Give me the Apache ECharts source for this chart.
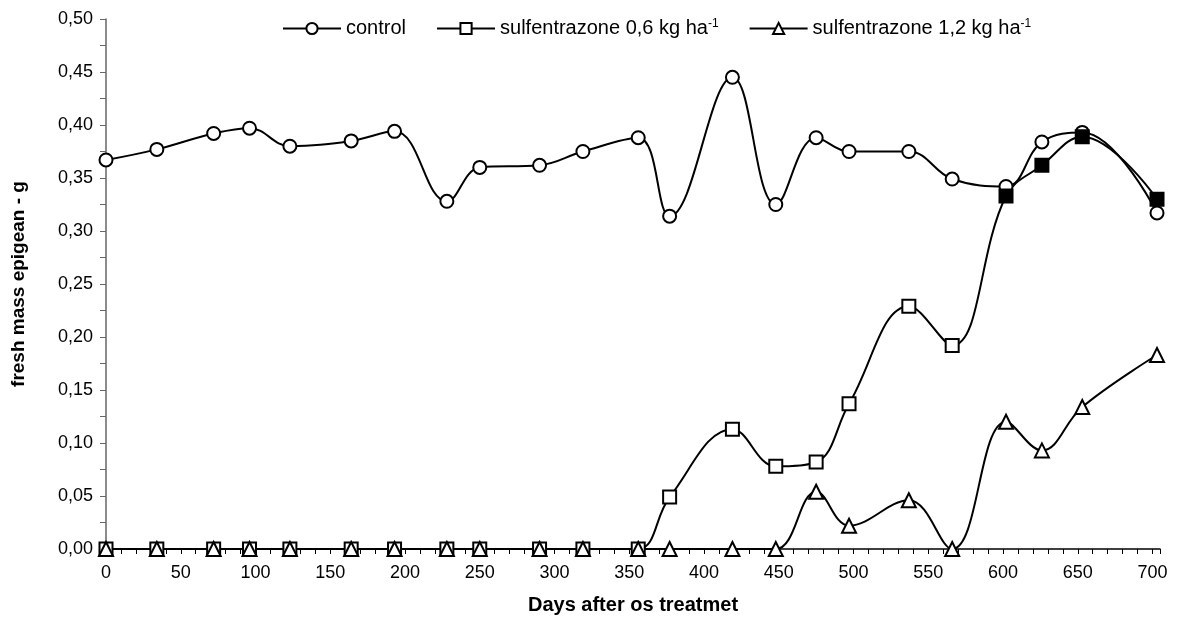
<!DOCTYPE html>
<html>
<head>
<meta charset="utf-8">
<script src="https://cdn.jsdelivr.net/npm/echarts@6/dist/echarts.min.js"></script>
<style>
  html, body { margin: 0; padding: 0; background: #fff; }
  #chart { width: 1178px; height: 620px; }
</style>
</head>
<body>
<div id="chart"></div>
<script>
// Days after treatment (x values)
const days = [0, 34, 72, 96, 123, 164, 193, 228, 250, 290, 319, 356, 377, 419, 448, 475, 497, 537, 566, 602, 626, 653, 703];
// control
const control = [0.367, 0.377, 0.392, 0.397, 0.380, 0.385, 0.394, 0.328, 0.360, 0.362, 0.375, 0.388, 0.314, 0.445, 0.325, 0.388, 0.375, 0.375, 0.349, 0.342, 0.384, 0.393, 0.317];
// sulfentrazone 0,6 kg ha-1
const sulf06 = [0, 0, 0, 0, 0, 0, 0, 0, 0, 0, 0, 0, 0.049, 0.113, 0.078, 0.082, 0.137, 0.229, 0.192, 0.333, 0.362, 0.389, 0.330];
// sulfentrazone 1,2 kg ha-1
const sulf12 = [0, 0, 0, 0, 0, 0, 0, 0, 0, 0, 0, 0, 0, 0, 0, 0.054, 0.022, 0.046, 0, 0.120, 0.093, 0.134, 0.183];
// points of sulf06 drawn with filled markers (indices)
const sulf06Filled = [19, 20, 21, 22];

const seriesNames = ['control', 'sulfentrazone 0,6 kg ha-1', 'sulfentrazone 1,2 kg ha-1'];
const legendLabels = {
  'control': 'control',
  'sulfentrazone 0,6 kg ha-1': 'sulfentrazone 0,6 kg ha{sup|-1}',
  'sulfentrazone 1,2 kg ha-1': 'sulfentrazone 1,2 kg ha{sup|-1}'
};
const xTitle = 'Days after os treatmet';
const yTitle = 'fresh mass epigean - g';

const pairs = (ys) => days.map((d, i) => [d, ys[i]]);

const chart = echarts.init(document.getElementById('chart'), null, { renderer: 'canvas' });

const baseSeries = {
  type: 'line',
  smooth: 0.4,
  symbolSize: 13,
  showAllSymbol: true,
  lineStyle: { color: '#000', width: 2 },
  itemStyle: { color: '#fff', borderColor: '#000', borderWidth: 2 },
  emphasis: { disabled: true },
  clip: false
};

const sulf06Data = pairs(sulf06).map((p, i) => sulf06Filled.includes(i)
  ? { value: p, itemStyle: { color: '#000', borderColor: '#000' } }
  : p);

chart.setOption({
  animation: false,
  backgroundColor: '#fff',
  textStyle: { fontFamily: 'Liberation Sans, Arial, sans-serif' },
  grid: { left: 106, right: 18, top: 19, bottom: 69, containLabel: false },
  legend: {
    left: 277,
    top: 13,
    itemWidth: 58,
    itemHeight: 14,
    itemGap: 30,
    data: seriesNames,
    formatter: (name) => legendLabels[name],
    textStyle: {
      fontSize: 20,
      color: '#000',
      fontFamily: 'Liberation Sans, Arial, sans-serif',
      rich: {
        sup: { fontSize: 12, verticalAlign: 'top', padding: [0, 0, 9, 0], color: '#000' }
      }
    }
  },
  xAxis: {
    type: 'value',
    min: 0,
    max: 705,
    interval: 10,
    name: xTitle,
    nameLocation: 'middle',
    nameGap: 46,
    nameTextStyle: { fontSize: 20, fontWeight: 'bold', color: '#000' },
    axisLine: { show: true, onZero: false, lineStyle: { color: '#000', width: 1.5 } },
    axisTick: { show: true, length: 5, inside: false, lineStyle: { color: '#000' } },
    axisLabel: {
      fontSize: 18,
      color: '#000',
      margin: 15,
      formatter: (v) => (v % 50 === 0 ? String(v) : '')
    },
    splitLine: { show: false }
  },
  yAxis: {
    type: 'value',
    min: 0,
    max: 0.5,
    interval: 0.05,
    name: yTitle,
    nameLocation: 'middle',
    nameGap: 78,
    nameTextStyle: {
      fontSize: 19,
      fontWeight: 'bold',
      color: '#000'
    },
    axisLine: { show: true, lineStyle: { color: '#666', width: 1.5 } },
    axisTick: { show: true, length: 6, lineStyle: { color: '#666' } },
    minorTick: { show: true, splitNumber: 2, length: 6, lineStyle: { color: '#666' } },
    axisLabel: {
      fontSize: 18,
      color: '#000',
      margin: 13,
      formatter: (v) => v.toFixed(2).replace('.', ',')
    },
    splitLine: { show: false }
  },
  series: [
    Object.assign({}, baseSeries, { name: seriesNames[0], symbol: 'circle', data: pairs(control) }),
    Object.assign({}, baseSeries, { name: seriesNames[1], symbol: 'rect', data: sulf06Data }),
    Object.assign({}, baseSeries, { name: seriesNames[2], symbol: 'triangle', symbolSize: 14, data: pairs(sulf12) })
  ]
});
</script>
</body>
</html>
